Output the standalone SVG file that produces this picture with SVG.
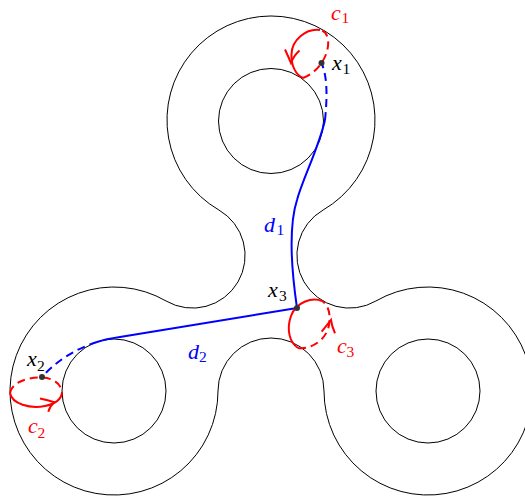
<svg xmlns="http://www.w3.org/2000/svg" width="525" height="503" viewBox="0 0 525 503">
<style>
.ln{fill:none;stroke:#000;stroke-width:1}
.bl{fill:none;stroke:#0000ff;stroke-width:2}
.rd{fill:none;stroke:#ff0000;stroke-width:2}
.ds{stroke-dasharray:8 5}
.pt{fill:#333;stroke:none}
.v{font-family:"Liberation Serif","Times New Roman",serif;font-style:italic;font-size:22px}
.s{font-family:"Liberation Serif","Times New Roman",serif;font-size:15.5px}
.k{fill:#000}.r{fill:#ff0000}.b{fill:#0000ff}
</style>
<rect width="525" height="503" fill="#fff"/>
<g id="surface">
<path class="ln" d="M218.9,210 A104,104 0 1 1 323.1,210 A52.6,52.6 0 0 0 375.9,301 A104,104 0 1 1 324,391 A53,53 0 0 0 218,391 A104,104 0 1 1 166.1,301 A52.6,52.6 0 0 0 218.9,210 Z"/>
<circle class="ln" cx="271" cy="121" r="52.5"/>
<circle class="ln" cx="114" cy="391" r="52"/>
<circle class="ln" cx="428" cy="391" r="52"/>
</g>
<g id="connectors">
<g id="d1">
<path class="bl" d="M297,308 C290,260 289,225 297,200 C303,178 318,150 325,120"/>
<path class="bl ds" d="M325,120 C327,100 328,78 321.5,63"/>
</g>
<g id="d2">
<path class="bl" d="M297,308 L120,337 C110,338.5 103,340 97,342"/>
<path class="bl ds" d="M97,342 C75,349 55,362 42,377"/>
</g>
<g id="c1">
<path class="rd" d="M320,30 C306,28 292,40 291.5,54 C291,66 296,75 303,78"/>
<path class="rd ds" d="M303,78 C314,74 326,62 328,46 C329,37 326,31 320,30"/>
<path class="rd" d="M285,49.5 Q288.5,57 291,63 Q293.5,56 299.5,50.5"/>
</g>
<g id="c2">
<path class="rd" d="M10,393 C12,404 30,409 45,406 C55,404 61,399 62,393"/>
<path class="rd ds" d="M10,393 C12,382 28,377 42,377.5 C54,378 62,385 62,393"/>
<path class="rd" d="M40,398.5 Q48,400 54.3,402.3 Q50,406 48.3,411.7"/>
</g>
<g id="c3">
<path class="rd" d="M322,301 C312,297 296,302 291,316 C286,330 290,343 298,348"/>
<path class="rd ds" d="M298,348 C308,350 326,342 329,325 C331,313 328,305 322,301"/>
<path class="rd" d="M321.7,331.7 Q327,325 331,320 Q332,327 335,333.3"/>
</g>
</g>
<g id="x1"><circle class="pt" cx="321.5" cy="63" r="3"/><text class="v k" x="332" y="70">x</text><text class="s k" x="342.5" y="74">1</text></g>
<g id="x2"><circle class="pt" cx="42" cy="377" r="3"/><text class="v k" x="27" y="366">x</text><text class="s k" x="37" y="371">2</text></g>
<g id="x3"><circle class="pt" cx="297" cy="308" r="3"/><text class="v k" x="268" y="297">x</text><text class="s k" x="279" y="301">3</text></g>
<g id="labels">
<text class="v r" x="331" y="19.5">c</text><text class="s r" x="341.5" y="23">1</text>
<text class="v r" x="28" y="433">c</text><text class="s r" x="37.5" y="438">2</text>
<text class="v r" x="337" y="353">c</text><text class="s r" x="346.5" y="357">3</text>
<text class="v b" x="264" y="232">d</text><text class="s b" x="276.5" y="235">1</text>
<text class="v b" x="188" y="359">d</text><text class="s b" x="199" y="362">2</text>
</g>
</svg>
